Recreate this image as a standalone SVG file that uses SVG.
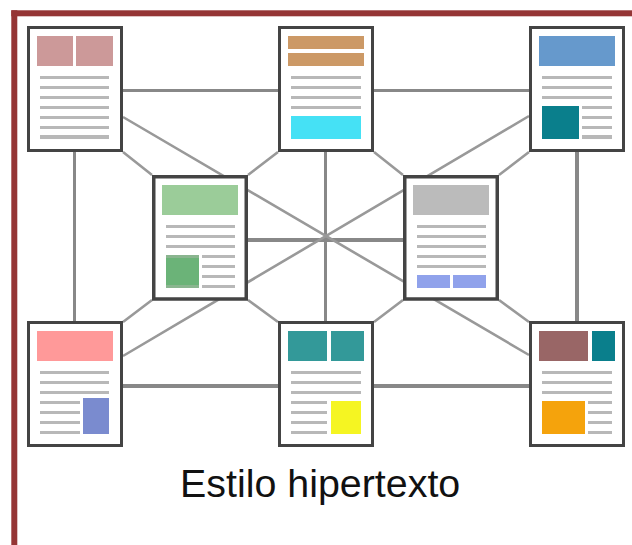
<svg xmlns="http://www.w3.org/2000/svg" width="632" height="545" viewBox="0 0 632 545">
<style>
.pg{fill:#fff;stroke:#444;stroke-width:3}
.pgb{fill:#fff;stroke:#444;stroke-width:3.5}
.l{fill:#b8b8b8}
.c{stroke:#888;fill:none}
.d{stroke:#999;stroke-width:2.6;fill:none}
.t{font-family:"Liberation Sans",Arial,sans-serif;font-size:39.4px;fill:#111}
</style>
<rect width="632" height="545" fill="#fff"/>
<g id="frame" fill="#953535"><rect x="11.3" y="10.3" width="620.7" height="6"/><rect x="11.3" y="10.3" width="6" height="534.7"/></g>
<g id="connectors">
<path class="c" stroke-width="3" d="M123 90.5H529M74.5 152V321M325.5 152V321"/>
<path class="c" stroke-width="4" d="M123 386H529M248 240H403M577 152V321"/>
<path class="d" d="M123 117L529 355M529 116L123 356M123 152L152 175M278 152L248 175M374 152L403 175M529 152L499 175M152 300L123 322M248 300L278 322M403 300L374 322M499 300L529 322"/>
</g>
<g id="node-top-left">
<rect class="pg" x="28.5" y="27.5" width="93" height="123"/>
<rect x="37" y="36" width="36" height="30" fill="#CC9999"/><rect x="76" y="36" width="37" height="30" fill="#CC9999"/>
<path class="l" d="M40 76h69v3h-69zM40 86h69v3h-69zM40 96h69v3h-69zM40 106h69v3h-69zM40 116h69v3h-69zM40 126h69v3h-69zM40 135h69v4h-69z"/>
</g>
<g id="node-top-middle">
<rect class="pg" x="279.5" y="27.5" width="93" height="123"/>
<rect x="288" y="36" width="76" height="13" fill="#CC9966"/><rect x="288" y="53" width="76" height="13" fill="#CC9966"/>
<path class="l" d="M291 76h70v3h-70zM291 86h70v3h-70zM291 96h70v3h-70zM291 106h70v3h-70z"/>
<rect x="291" y="116" width="70" height="23" fill="#45E1F5"/>
</g>
<g id="node-top-right">
<rect class="pg" x="530.5" y="27.5" width="93" height="123"/>
<rect x="539" y="36" width="76" height="30" fill="#6699CC"/>
<path class="l" d="M542 76h70v3h-70zM542 86h70v3h-70zM542 96h70v3h-70zM582 106h30v3h-30zM582 116h30v3h-30zM582 126h30v3h-30zM582 135h30v4h-30z"/>
<rect x="542" y="106" width="37" height="33" fill="#0A7F8C"/>
</g>
<g id="node-center-left">
<rect class="pgb" x="153.75" y="176.75" width="92.5" height="122.25"/>
<rect x="162" y="185" width="76" height="30" fill="#9BCC99"/>
<path class="l" d="M166 225h69v3h-69zM166 235h69v3h-69zM166 245h69v3h-69zM202 255h33v3h-33zM202 265h33v3h-33zM202 275h33v3h-33zM202 285h33v3h-33z"/>
<rect x="166" y="255" width="33" height="33" fill="#8AB58F"/><rect x="166" y="258" width="33" height="27" fill="#6BB378"/>
</g>
<g id="node-center-right">
<rect class="pgb" x="404.75" y="176.75" width="92.5" height="122.25"/>
<rect x="413" y="185" width="76" height="30" fill="#BBBBBB"/>
<path class="l" d="M417 225h69v3h-69zM417 235h69v3h-69zM417 245h69v3h-69zM417 255h69v3h-69zM417 265h69v3h-69z"/>
<rect x="417" y="275" width="33" height="13" fill="#90A2EB"/><rect x="453" y="275" width="33" height="13" fill="#90A2EB"/>
</g>
<g id="node-bottom-left">
<rect class="pg" x="28.5" y="322.5" width="93" height="123"/>
<rect x="37" y="331" width="76" height="30" fill="#FF9999"/>
<path class="l" d="M40 371h69v3h-69zM40 381h69v3h-69zM40 391h69v3h-69zM40 401h40v3h-40zM40 411h40v3h-40zM40 421h40v3h-40zM40 431h40v3h-40z"/>
<rect x="83" y="398" width="26" height="36" fill="#7A8BCF"/>
</g>
<g id="node-bottom-middle">
<rect class="pg" x="279.5" y="322.5" width="93" height="123"/>
<rect x="288" y="331" width="39" height="30" fill="#339999"/><rect x="331" y="331" width="33" height="30" fill="#339999"/>
<path class="l" d="M291 371h70v3h-70zM291 381h70v3h-70zM291 391h70v3h-70zM291 401h36v3h-36zM291 411h36v3h-36zM291 421h36v3h-36zM291 431h36v3h-36z"/>
<rect x="331" y="401" width="30" height="33" fill="#F5F522"/>
</g>
<g id="node-bottom-right">
<rect class="pg" x="530.5" y="322.5" width="93" height="123"/>
<rect x="539" y="331" width="49" height="30" fill="#996666"/><rect x="592" y="331" width="23" height="30" fill="#0A7F8C"/>
<path class="l" d="M542 371h70v3h-70zM542 381h70v3h-70zM542 391h70v3h-70zM588 401h24v3h-24zM588 411h24v3h-24zM588 421h24v3h-24zM588 431h24v3h-24z"/>
<rect x="542" y="401" width="43" height="33" fill="#F5A30C"/>
</g>
<text class="t" x="180" y="497">Estilo hipertexto</text>
</svg>
